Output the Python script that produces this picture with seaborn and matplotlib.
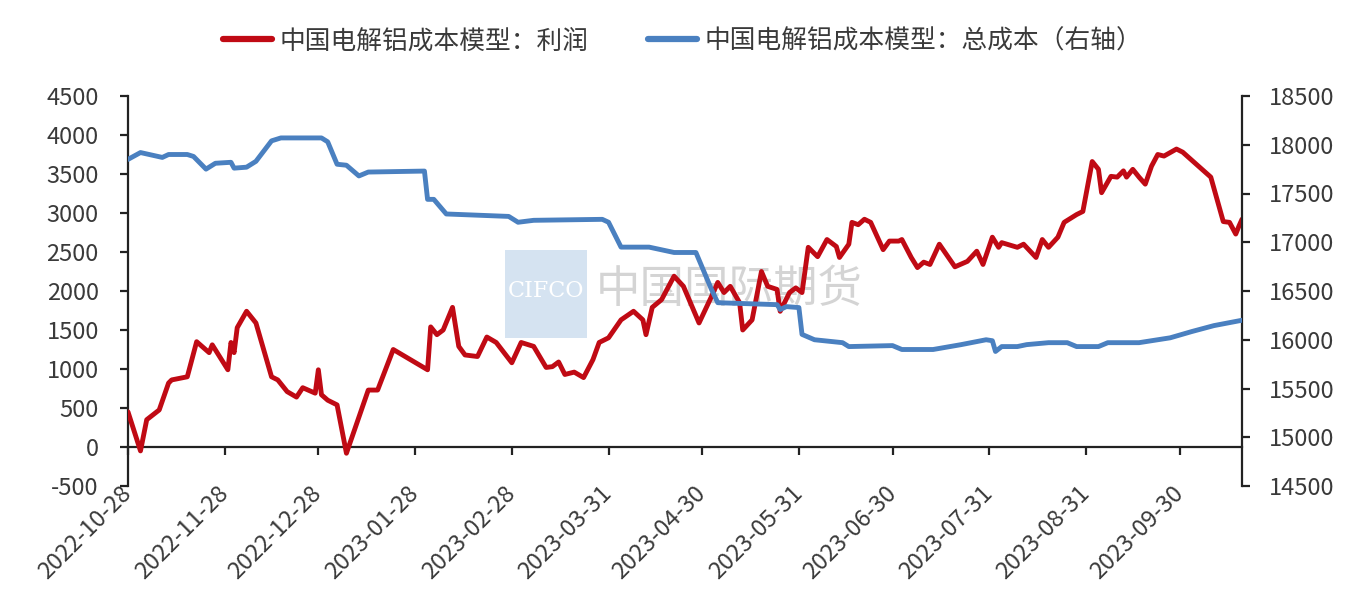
import matplotlib
matplotlib.use("Agg")
import matplotlib.pyplot as plt
import matplotlib.dates as mdates
from matplotlib.patches import Rectangle
import seaborn as sns
import pandas as pd

# ---------------- data ----------------
profit_dates = [
    "2022-10-28", "2022-11-01", "2022-11-03", "2022-11-07", "2022-11-10", "2022-11-11",
    "2022-11-16", "2022-11-19", "2022-11-23", "2022-11-24", "2022-11-29", "2022-11-30",
    "2022-12-01", "2022-12-02", "2022-12-05", "2022-12-08", "2022-12-13", "2022-12-15",
    "2022-12-18", "2022-12-21", "2022-12-23", "2022-12-27", "2022-12-28", "2022-12-29",
    "2022-12-31", "2023-01-03", "2023-01-06", "2023-01-13", "2023-01-16", "2023-01-21",
    "2023-02-01", "2023-02-02", "2023-02-04", "2023-02-06", "2023-02-09", "2023-02-11",
    "2023-02-13", "2023-02-17", "2023-02-20", "2023-02-23", "2023-02-28", "2023-03-03",
    "2023-03-07", "2023-03-11", "2023-03-13", "2023-03-15", "2023-03-17", "2023-03-20",
    "2023-03-23", "2023-03-26", "2023-03-28", "2023-03-31", "2023-04-04", "2023-04-08",
    "2023-04-11", "2023-04-12", "2023-04-14", "2023-04-17", "2023-04-21", "2023-04-24",
    "2023-04-29", "2023-05-03", "2023-05-05", "2023-05-07", "2023-05-09", "2023-05-12",
    "2023-05-13", "2023-05-16", "2023-05-19", "2023-05-21", "2023-05-24", "2023-05-25",
    "2023-05-28", "2023-05-30", "2023-06-01", "2023-06-03", "2023-06-06", "2023-06-09",
    "2023-06-12", "2023-06-13", "2023-06-16", "2023-06-17", "2023-06-19", "2023-06-21",
    "2023-06-23", "2023-06-27", "2023-06-29", "2023-07-02", "2023-07-03", "2023-07-06",
    "2023-07-08", "2023-07-10", "2023-07-12", "2023-07-15", "2023-07-20", "2023-07-24",
    "2023-07-27", "2023-07-29", "2023-08-01", "2023-08-03", "2023-08-04", "2023-08-09",
    "2023-08-11", "2023-08-15", "2023-08-17", "2023-08-19", "2023-08-22", "2023-08-24",
    "2023-08-28", "2023-08-30", "2023-09-02", "2023-09-04", "2023-09-05", "2023-09-08",
    "2023-09-10", "2023-09-12", "2023-09-13", "2023-09-15", "2023-09-17", "2023-09-19",
    "2023-09-21", "2023-09-23", "2023-09-25", "2023-09-29", "2023-10-01", "2023-10-10",
    "2023-10-14", "2023-10-16", "2023-10-18", "2023-10-19", "2023-10-20",
]
profit_values = [
    450, -50, 350, 475, 820, 860,
    900, 1350, 1210, 1310, 990, 1340,
    1210, 1530, 1740, 1590, 900, 860,
    710, 640, 760, 690, 990, 670,
    600, 540, -80, 730, 730, 1250,
    990, 1540, 1440, 1500, 1790, 1290,
    1180, 1160, 1410, 1340, 1080, 1340,
    1290, 1020, 1030, 1090, 930, 960,
    890, 1120, 1340, 1400, 1630, 1740,
    1630, 1440, 1790, 1890, 2190, 2060,
    1590, 1930, 2110, 1980, 2060, 1850,
    1500, 1630, 2250, 2060, 2020, 1740,
    1980, 2040, 1980, 2560, 2440, 2660,
    2570, 2430, 2600, 2880, 2850, 2920,
    2880, 2530, 2640, 2640, 2660, 2430,
    2300, 2370, 2340, 2600, 2310, 2380,
    2510, 2340, 2690, 2560, 2620, 2560,
    2600, 2430, 2660, 2560, 2690, 2880,
    2980, 3020, 3660, 3560, 3260, 3470,
    3460, 3540, 3460, 3560, 3460, 3370,
    3600, 3750, 3730, 3820, 3780, 3460,
    2890, 2880, 2730, 2830, 2920,
]

cost_dates = [
    "2022-10-28", "2022-11-01", "2022-11-08", "2022-11-10", "2022-11-16", "2022-11-18",
    "2022-11-22", "2022-11-25", "2022-11-30", "2022-12-01", "2022-12-05", "2022-12-08",
    "2022-12-13", "2022-12-16", "2022-12-29", "2022-12-31", "2023-01-03", "2023-01-06",
    "2023-01-10", "2023-01-13", "2023-01-31", "2023-02-01", "2023-02-03", "2023-02-07",
    "2023-02-27", "2023-03-02", "2023-03-07", "2023-03-29", "2023-03-31", "2023-04-04",
    "2023-04-13", "2023-04-21", "2023-04-28", "2023-05-03", "2023-05-05", "2023-05-24",
    "2023-05-25", "2023-05-27", "2023-05-31", "2023-06-01", "2023-06-05", "2023-06-14",
    "2023-06-16", "2023-06-30", "2023-07-03", "2023-07-13", "2023-07-22", "2023-07-30",
    "2023-08-01", "2023-08-02", "2023-08-04", "2023-08-09", "2023-08-12", "2023-08-19",
    "2023-08-25", "2023-08-28", "2023-09-04", "2023-09-07", "2023-09-17", "2023-09-27",
    "2023-10-04", "2023-10-11", "2023-10-20",
]
cost_values = [
    17850, 17920, 17870, 17900, 17900, 17880,
    17750, 17810, 17820, 17760, 17770, 17830,
    18040, 18070, 18070, 18030, 17800, 17790,
    17680, 17720, 17730, 17440, 17440, 17290,
    17265, 17205, 17225, 17235, 17205, 16950,
    16950, 16895, 16895, 16515, 16380, 16360,
    16310, 16340, 16330, 16055, 16000, 15970,
    15930, 15940, 15900, 15900, 15950, 16000,
    15990, 15880, 15930, 15930, 15950, 15970,
    15970, 15930, 15930, 15970, 15970, 16020,
    16085, 16145, 16200,
]

tick_dates = [
    "2022-10-28", "2022-11-28", "2022-12-28", "2023-01-28", "2023-02-28", "2023-03-31",
    "2023-04-30", "2023-05-31", "2023-06-30", "2023-07-31", "2023-08-31", "2023-09-30",
]
x_start, x_end = "2022-10-28", "2023-10-20"
left_ticks = [-500, 0, 500, 1000, 1500, 2000, 2500, 3000, 3500, 4000, 4500]
right_ticks = [14500, 15000, 15500, 16000, 16500, 17000, 17500, 18000, 18500]
series_labels = ["中国电解铝成本模型：利润", "中国电解铝成本模型：总成本（右轴）"]
watermark_cn = "中国国际期货"
watermark_en = "CIFCO"

RED = "#C00A14"
BLUE = "#4A80C0"
TXT = "#3a3a3a"

# ---------------- style ----------------
sns.set_theme(style="ticks")
plt.rcParams["font.family"] = ["Noto Sans CJK SC", "DejaVu Sans"]
plt.rcParams["axes.unicode_minus"] = False

fig = plt.figure(figsize=(13.6, 6.06), dpi=100)
ax = fig.add_axes([128 / 1360, 1 - 486 / 606, (1242 - 128) / 1360, (486 - 96) / 606])
ax2 = ax.twinx()

profit_df = pd.DataFrame({"date": pd.to_datetime(profit_dates), "value": profit_values})
cost_df = pd.DataFrame({"date": pd.to_datetime(cost_dates), "value": cost_values})

sns.lineplot(data=profit_df, x="date", y="value", ax=ax, color=RED, linewidth=3.5,
             label=series_labels[0], legend=False, zorder=3)
sns.lineplot(data=cost_df, x="date", y="value", ax=ax2, color=BLUE, linewidth=3.5,
             label=series_labels[1], legend=False, zorder=3)

# watermark
ax.add_patch(Rectangle((0.338, 0.379), 0.074, 0.226, transform=ax.transAxes,
                       facecolor="#d5e3f1", edgecolor="none", zorder=0))
ax.text(0.375, 0.50, watermark_en, transform=ax.transAxes, ha="center", va="center",
        fontsize=16, color="white", family="DejaVu Serif", zorder=0.5)
ax.text(0.540, 0.505, watermark_cn, transform=ax.transAxes, ha="center", va="center",
        fontsize=32, color="#d4d4d4", zorder=0.5)

# axes limits and ticks
ax.set_xlim(pd.Timestamp(x_start), pd.Timestamp(x_end))
ax.set_ylim(left_ticks[0], left_ticks[-1])
ax2.set_ylim(right_ticks[0], right_ticks[-1])
ax.set_yticks(left_ticks)
ax2.set_yticks(right_ticks)
ax.set_xticks(pd.to_datetime(tick_dates))
ax.xaxis.set_major_formatter(mdates.DateFormatter("%Y-%m-%d"))
ax.set_xlabel("")
ax.set_ylabel("")
ax2.set_ylabel("")

for a in (ax, ax2):
    a.grid(False)
    a.spines["top"].set_visible(False)
    for s in a.spines.values():
        s.set_color("#222222")
        s.set_linewidth(1.6)

ax.spines["right"].set_visible(False)
ax.spines["bottom"].set_position(("data", 0))
ax2.spines["left"].set_visible(False)
ax2.spines["bottom"].set_visible(False)

ax.tick_params(axis="y", direction="out", length=6, width=1.6, color="#222222",
               labelsize=17, labelcolor=TXT, pad=15)
ax2.tick_params(axis="y", direction="out", length=6, width=1.6, color="#222222",
                labelsize=17, labelcolor=TXT, pad=13)
ax.tick_params(axis="x", direction="out", length=6, width=1.6, color="#222222",
               labelsize=17, labelcolor=TXT, pad=25)
for lbl in ax.get_xticklabels():
    lbl.set_rotation(45)
    lbl.set_ha("right")
    lbl.set_va("center")
    lbl.set_rotation_mode("anchor")

# legend
handles = [plt.Line2D([], [], color=RED, linewidth=4.5),
           plt.Line2D([], [], color=BLUE, linewidth=4.5)]
leg = fig.legend(handles, series_labels, loc="center", bbox_to_anchor=(0.502, 0.932),
                 ncol=2, frameon=False, fontsize=18.5, handlelength=1.9,
                 handletextpad=0.3, columnspacing=2.3)
for t in leg.get_texts():
    t.set_color(TXT)

fig.savefig("out.png", dpi=100, facecolor="white")
